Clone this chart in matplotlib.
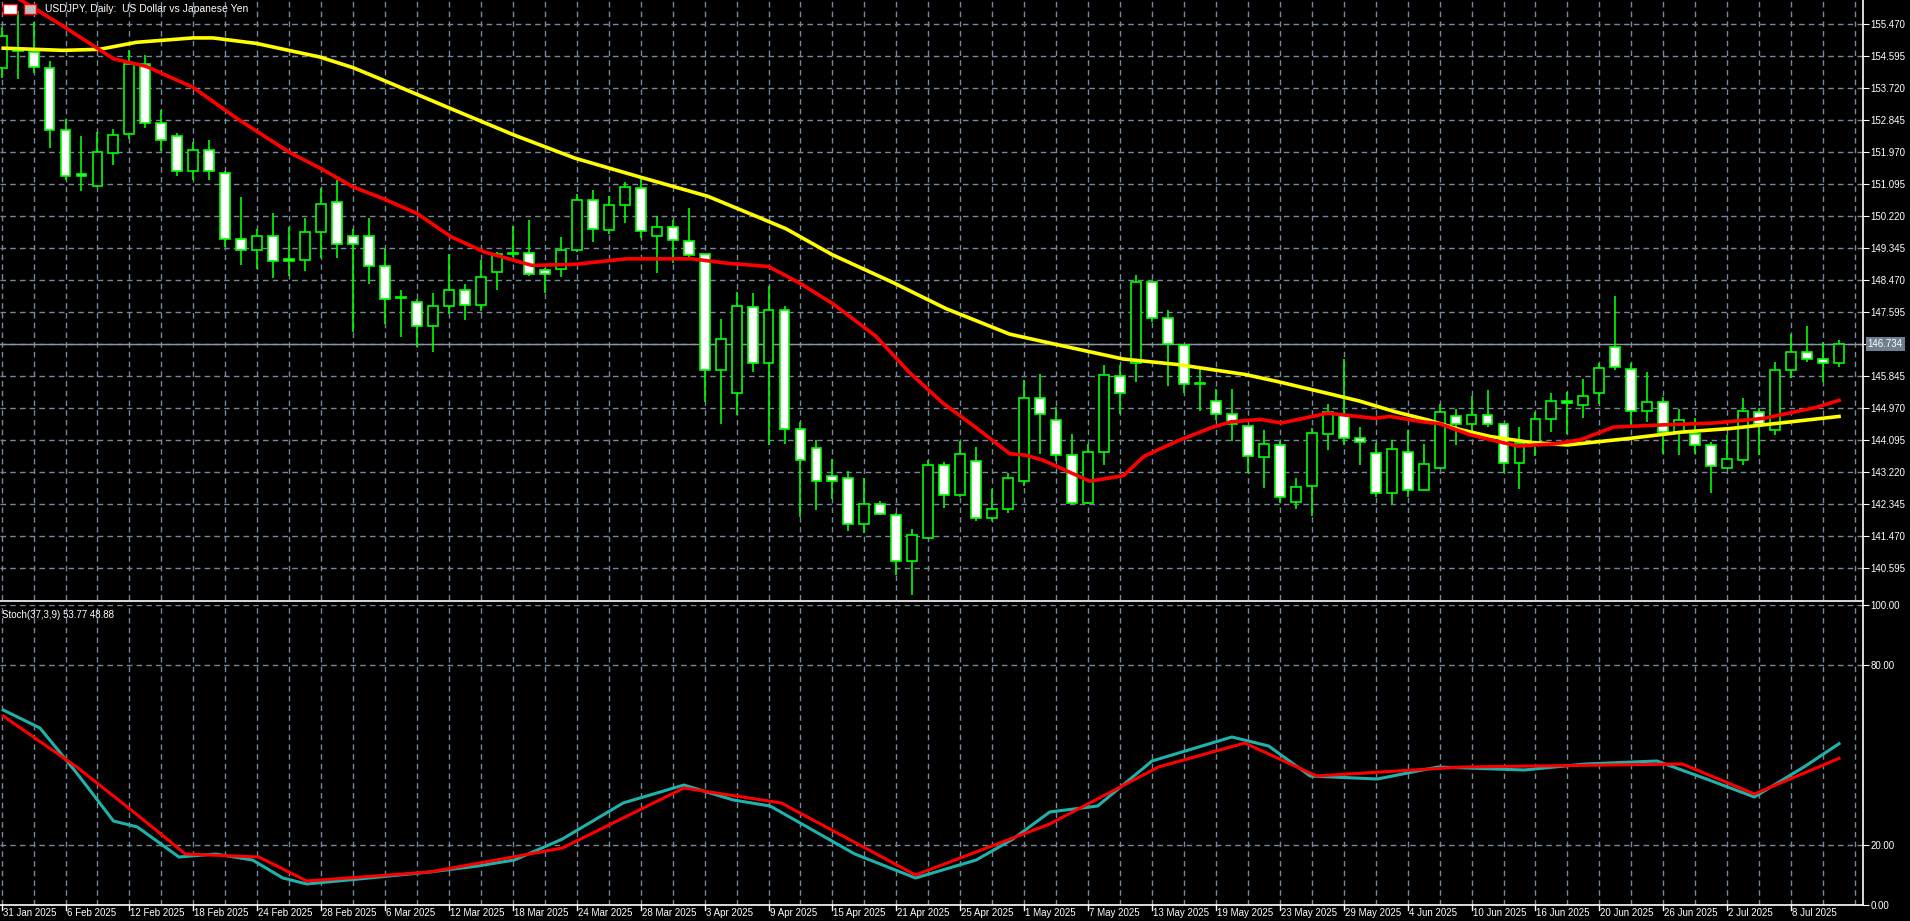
import matplotlib
matplotlib.use("Agg")
import matplotlib.pyplot as plt
import pandas as pd
import numpy as np

plt.rcParams['font.family'] = ['Liberation Sans', 'DejaVu Sans']

# ---------------- data ----------------
dates = pd.bdate_range("2025-01-31", "2025-07-11")
opens = [154.28,154.74,154.71,154.29,152.58,151.39,151.06,151.96,152.46,154.39,
         152.78,152.43,151.47,152.04,151.41,149.61,149.31,149.69,149.06,149.03,
         149.80,150.62,149.69,149.69,148.87,147.98,147.89,147.23,147.76,148.22,
         147.81,148.71,149.19,149.23,148.75,148.77,149.30,150.67,149.86,150.54,
         151.01,149.69,149.94,149.55,149.18,146.03,145.40,147.75,146.21,147.65,
         144.42,143.88,143.13,143.06,141.82,142.35,142.06,140.79,141.43,143.43,
         142.59,143.52,141.96,142.22,142.98,145.26,144.64,143.69,142.37,143.79,
         145.86,146.22,148.43,147.45,146.71,145.63,145.17,144.83,144.49,143.63,
         143.97,142.42,142.84,144.28,144.78,144.15,143.76,142.66,143.79,142.73,
         143.33,144.75,144.53,144.79,144.53,143.47,144.02,144.67,145.17,145.05,
         145.40,146.64,146.06,144.89,145.15,144.33,144.28,143.97,143.35,143.57,
         144.88,144.37,146.01,146.50,146.32,146.22]
closes = [155.15,154.74,154.30,152.58,151.32,151.33,151.97,152.45,154.39,152.78,
          152.31,151.47,152.04,151.45,149.61,149.31,149.69,149.00,149.00,149.80,
          150.57,149.47,149.47,148.86,147.97,147.98,147.23,147.76,148.22,147.81,
          148.57,149.18,149.23,148.65,148.65,149.30,150.67,149.88,150.54,151.03,
          149.83,149.94,149.58,149.17,146.03,146.88,147.78,146.21,147.67,144.42,
          143.55,142.98,142.98,141.82,142.35,142.09,140.79,141.51,143.43,142.59,
          143.71,141.96,142.22,143.06,145.26,144.83,143.69,142.37,143.79,145.88,
          145.38,148.43,147.45,146.74,145.64,145.62,144.83,144.53,143.66,144.00,
          142.56,142.82,144.31,144.86,144.15,144.04,142.66,143.87,142.73,143.44,
          144.86,144.53,144.79,144.53,143.47,144.02,144.68,145.17,145.11,145.31,
          146.08,146.09,144.89,145.15,144.33,144.64,143.97,143.40,143.58,144.91,
          144.55,146.01,146.50,146.32,146.22,146.734]
highs = [155.40,155.84,155.54,154.46,152.89,152.41,152.53,152.60,154.77,154.63,
         153.14,152.50,152.25,152.30,151.45,150.75,149.87,150.31,149.94,150.17,
         150.99,151.22,149.87,150.17,149.33,148.20,147.95,148.12,149.19,148.36,
         149.02,149.25,149.96,150.13,148.80,149.65,150.82,150.94,150.77,151.15,
         151.29,150.24,150.13,150.44,149.20,147.42,148.15,148.12,148.31,147.78,
         144.60,144.11,143.60,143.27,143.08,142.45,142.12,141.67,143.55,143.50,
         144.08,143.92,142.77,143.21,145.74,145.92,145.02,144.28,144.00,146.17,
         146.17,148.62,148.43,147.66,146.71,146.06,145.49,145.51,144.49,144.39,
         144.08,143.08,144.44,145.09,146.32,144.46,144.02,144.11,144.39,144.00,
         145.09,144.94,145.31,145.47,144.55,144.47,144.88,145.38,145.43,145.77,
         146.22,148.04,146.20,145.96,145.28,144.96,144.70,144.04,144.25,145.26,
         144.98,146.24,147.00,147.21,146.79,146.85]
lows = [154.00,153.98,154.14,152.09,151.22,150.92,151.02,151.62,152.34,152.65,
        152.01,151.32,151.22,151.22,149.38,148.89,148.77,148.53,148.59,148.72,
        149.07,149.07,147.07,148.36,147.28,146.93,146.64,146.51,147.56,147.39,
        147.63,148.20,149.10,148.60,148.12,148.55,149.25,149.53,149.75,150.04,
        149.62,148.67,148.94,149.12,145.15,144.55,144.79,145.96,143.97,144.00,
        141.99,142.18,142.49,141.62,141.56,142.05,140.42,139.87,141.40,142.25,
        142.54,141.90,141.88,142.12,142.85,143.71,143.52,142.35,142.35,143.42,
        144.81,145.70,147.32,145.59,145.38,144.91,144.65,144.08,143.21,142.79,
        142.37,142.21,142.04,143.83,143.97,143.42,142.54,142.35,142.54,142.70,
        143.30,143.97,144.34,144.45,143.19,142.77,143.66,144.33,144.28,144.72,
        145.10,146.01,144.49,144.60,143.71,143.69,143.73,142.66,143.30,143.42,
        143.69,144.23,145.80,146.24,145.70,146.09]

ma_red_x = [1.15,3.86,7.0,9.06,11.98,14.69,18.02,20.1,21.98,23.86,26.0,28.1,30.2,33.2,
            35.9,39.1,43.2,45.4,48.0,49.9,52.0,54.7,56.8,58.9,61.0,63.1,64.1,65.2,68.1,
            70.2,71.5,73.6,75.7,76.9,78.8,80.1,83.0,85.9,86.9,89.0,90.0,91.9,93.2,94.9,
            97.2,98.8,100.9,104.0,107.2,110.3,113.5,115.0]
ma_red_y = [156.15,155.42,154.53,154.32,153.75,152.91,151.97,151.50,151.03,150.71,150.30,
            149.67,149.25,148.88,148.91,149.06,149.06,148.94,148.85,148.41,147.84,146.95,
            145.96,145.12,144.44,143.73,143.69,143.55,142.98,143.13,143.66,144.08,144.44,
            144.60,144.67,144.57,144.84,144.70,144.75,144.60,144.55,144.25,144.11,143.94,
            144.00,144.11,144.46,144.52,144.57,144.70,144.99,145.19]
ma_yel_x = [0.1,3.86,6.15,8.44,11.98,13.23,15.94,19.9,21.98,23.86,28.1,32.1,35.9,40.0,44.2,
            47.3,49.1,52.0,55.8,59.1,63.1,66.3,70.2,73.6,77.8,79.9,83.0,85.0,87.2,89.3,
            91.3,93.2,95.7,98.0,101.9,105.1,108.2,111.3,115.0]
ma_yel_y = [154.82,154.76,154.79,154.98,155.10,155.10,154.95,154.58,154.29,153.95,153.17,
            152.44,151.81,151.29,150.77,150.21,149.88,149.17,148.41,147.70,147.00,146.69,
            146.32,146.17,145.90,145.70,145.38,145.17,144.88,144.65,144.39,144.20,144.04,
            143.97,144.15,144.32,144.42,144.57,144.75]

stoch_main_x = [0.1,2.4,4.7,7.0,8.5,11.1,13.4,15.7,17.6,19.1,23.0,26.8,29.8,32.1,35.1,38.9,
                42.7,45.8,48.1,53.4,57.2,61.0,63.3,65.6,68.6,72.0,77.0,79.3,81.9,86.1,89.9,
                95.3,99.1,103.6,106.7,109.7,112.8,115.0]
stoch_main_y = [65,59,44,28,26,16,17,15,9,7,9,11,13,15,22,34,40,35,33,17,9,15,22,31,33,48,
                56,53,43,42,46,45,47,48,42,36,46,53.77]
stoch_sig_x = [0.1,4.7,8.5,11.5,16.1,19.1,26.8,35.1,42.7,48.8,57.2,65.6,72.4,77.8,82.3,91.4,
               105.2,109.7,115.0]
stoch_sig_y = [63,46,30,17,16,8,11,19,39,34,10,27,46,54,43,46,47,37,48.88]

price_ticks = [140.595 + 0.875 * k for k in range(18)]
last_price = 146.734

# ---------------- figure ----------------
W, H = 1910, 921
fig = plt.figure(figsize=(W / 100, H / 100), dpi=100, facecolor="black")
grid_c = "#77889a"
right = 1863 / W
ax = fig.add_axes([0, 1 - 600 / H, right, 600 / H], facecolor="black")
ax2 = fig.add_axes([0, 1 - 905 / H, right, 300 / H], facecolor="black")

n = len(dates)
x = np.arange(n)
xlim = (-0.1, 116.5)
for a in (ax, ax2):
    a.set_xlim(*xlim)
    for s in a.spines.values():
        s.set_visible(False)
    a.set_xticks(np.arange(0, n + 1, 2))
    a.xaxis.grid(True, color=grid_c, ls=(0, (4, 3)), lw=1)
    a.yaxis.grid(True, color=grid_c, ls=(0, (4, 3)), lw=1)
    a.tick_params(axis="x", length=0, labelbottom=False)
    a.set_axisbelow(True)

# main panel
ax.set_ylim(139.731, 156.137)
ax.set_yticks(price_ticks)
ax.yaxis.tick_right()
ax.tick_params(axis="y", colors="white", labelsize=7, length=4, direction="out", pad=1.5)
ax.set_yticklabels([f"{p:.3f}" for p in price_ticks])

o = np.array(opens); c = np.array(closes); h = np.array(highs); l = np.array(lows)
ax.vlines(x, l, h, color="#00ff00", lw=1.2, zorder=2)
bull = c >= o
body = np.where(np.abs(c - o) < 0.03, 0.03, c - o)
ax.bar(x[bull], body[bull], bottom=o[bull], width=0.62, color="black",
       edgecolor="#00ff00", lw=1.2, zorder=3)
ax.bar(x[~bull], body[~bull], bottom=o[~bull], width=0.62, color="white",
       edgecolor="#00ff00", lw=1.2, zorder=3)

ax.plot(ma_yel_x, ma_yel_y, color="#ffff00", lw=2.6, zorder=4)
ax.plot(ma_red_x, ma_red_y, color="#ff0000", lw=2.6, zorder=4)
ax.axhline(last_price, color="#8a96a3", lw=1, zorder=1)
ax.text(1.0025, last_price, f"{last_price:.3f}", transform=ax.get_yaxis_transform(),
        color="white", fontsize=7, va="center", ha="left",
        bbox=dict(boxstyle="square,pad=0.2", fc="#6f7f8f", ec="none"), zorder=10, clip_on=False)

fig.text(45 / W, 1 - 9 / H, "USDJPY, Daily:  US Dollar vs Japanese Yen", color="white",
         fontsize=7.5, va="center", ha="left")
fig.patches.append(plt.Rectangle((3 / W, 1 - 14 / H), 14 / W, 10 / H, transform=fig.transFigure,
                                 fc="white", ec="red", lw=1))
fig.patches.append(plt.Rectangle((24 / W, 1 - 14 / H), 12 / W, 10 / H, transform=fig.transFigure,
                                 fc="#c0c0c0", ec="red", lw=1))

# stoch panel
ax2.set_ylim(0, 100)
ax2.set_yticks([0, 20, 80, 100])
ax2.yaxis.tick_right()
ax2.tick_params(axis="y", colors="white", labelsize=7, length=4, pad=1.5)
ax2.set_yticklabels(["0.00", "20.00", "80.00", "100.00"])
ax2.plot(stoch_main_x, stoch_main_y, color="#20b2aa", lw=2.2, zorder=4)
ax2.plot(stoch_sig_x, stoch_sig_y, color="#ff0000", lw=2.2, zorder=4)
ax2.text(0.001, 0.985, f"Stoch(37,3,9) {stoch_main_y[-1]:.2f} {stoch_sig_y[-1]:.2f}",
         transform=ax2.transAxes, color="white", fontsize=7, va="top", ha="left")

# frame lines
fig.add_artist(plt.Line2D([0, right], [1 - 601 / H] * 2, color="white", lw=1.2))
fig.add_artist(plt.Line2D([0, right], [1 - 905 / H] * 2, color="white", lw=1.2))
fig.add_artist(plt.Line2D([right, right], [1 - 905 / H, 1], color="white", lw=1.2))

# date labels every 4 bars
for i in range(0, n, 4):
    xf = right * (i - xlim[0]) / (xlim[1] - xlim[0])
    fig.add_artist(plt.Line2D([xf, xf], [1 - 905 / H, 1 - 910 / H], color="white", lw=1))
    fig.text(xf + 1 / W, 1 - 913 / H, f"{dates[i].day} {dates[i].strftime('%b %Y')}",
             color="white", fontsize=7, va="center", ha="left")

fig.savefig("out.png", dpi=100, facecolor="black")
